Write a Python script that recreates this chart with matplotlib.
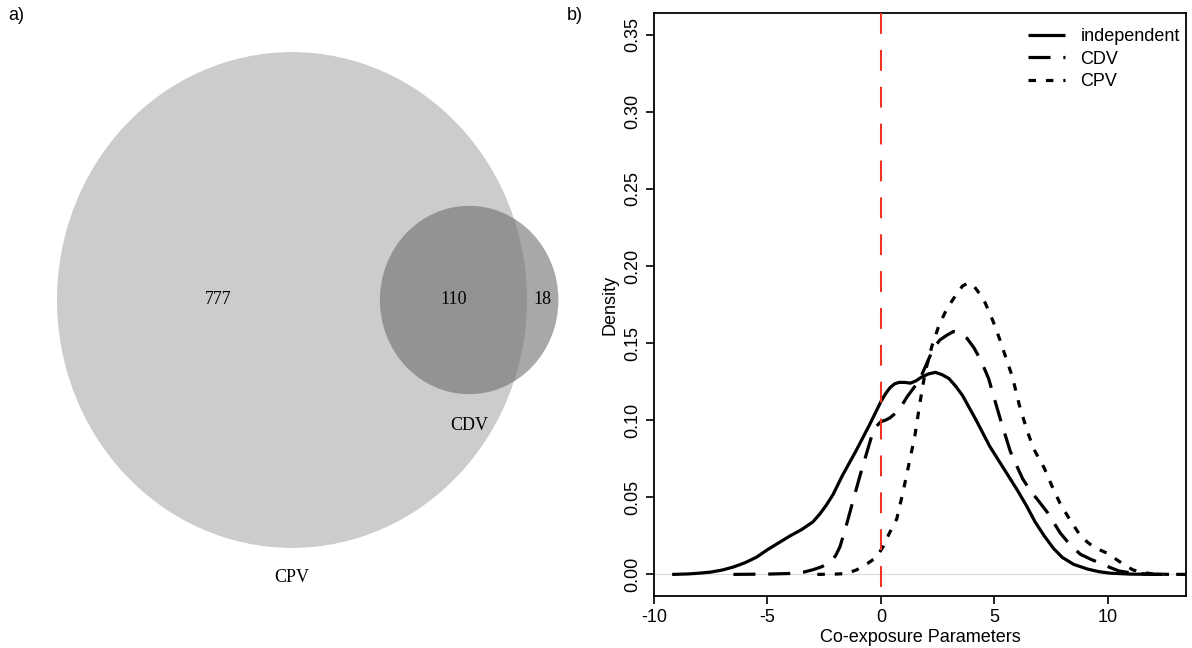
import numpy as np
import matplotlib
matplotlib.use('Agg')
import matplotlib.pyplot as plt
from matplotlib.patches import Circle

plt.rcParams['font.family'] = ['Liberation Sans', 'DejaVu Sans']

# ---- panel a) venn counts
only_cpv = 777
both = 110
only_cdv = 18
set_names = ['CPV', 'CDV']

# ---- panel b) density curves (read off the figure)
ind_x = [-9.2, -8.5, -8.0, -7.5, -7.0, -6.5, -6.0, -5.5, -5.0, -4.5, -4.0, -3.5,
         -3.0, -2.7, -2.4, -2.1, -1.7, -1.1, -0.5, 0.0, 0.2, 0.4, 0.6, 0.8, 1.05,
         1.3, 1.55, 1.8, 2.1, 2.4, 2.7, 3.0, 3.3, 3.6, 4.2, 4.8, 5.4, 6.0, 6.4,
         6.8, 7.2, 7.6, 8.0, 8.5, 9.1, 9.6, 10.1, 11.0, 12.4]
ind_y = [0.0, 0.0003, 0.0008, 0.0015, 0.0028, 0.0048, 0.0075, 0.011, 0.016, 0.0205,
         0.025, 0.029, 0.034, 0.039, 0.045, 0.052, 0.064, 0.080, 0.097, 0.112, 0.117,
         0.121, 0.1235, 0.1245, 0.1245, 0.124, 0.1255, 0.128, 0.130, 0.131, 0.1295,
         0.127, 0.122, 0.116, 0.100, 0.083, 0.069, 0.055, 0.045, 0.034, 0.025, 0.017,
         0.011, 0.0065, 0.0035, 0.0018, 0.0008, 0.0002, 0.0]

cdv_x = [-6.5, -5.0, -4.0, -3.4, -3.0, -2.6, -2.25, -2.0, -1.8, -1.5, -1.24, -0.93,
         -0.62, -0.4, -0.2, 0.0, 0.2, 0.4, 0.6, 0.9, 1.15, 1.45, 1.7, 2.0, 2.3, 2.6,
         2.9, 3.2, 3.5, 3.8, 4.1, 4.4, 4.75, 5.0, 5.3, 5.7, 6.0, 6.25, 6.6, 6.9,
         7.35, 7.9, 8.35, 8.8, 9.3, 9.7, 10.1, 10.5, 11.2, 12.0, 13.5]
cdv_y = [0.0, 0.0002, 0.0006, 0.0015, 0.003, 0.005, 0.008, 0.012, 0.018, 0.033,
         0.047, 0.0635, 0.079, 0.090, 0.096, 0.099, 0.100, 0.1015, 0.104, 0.109,
         0.115, 0.121, 0.126, 0.136, 0.146, 0.152, 0.155, 0.1575, 0.1565, 0.153,
         0.147, 0.139, 0.127, 0.114, 0.099, 0.080, 0.070, 0.062, 0.054, 0.0486,
         0.040, 0.027, 0.019, 0.013, 0.0095, 0.0072, 0.0045, 0.0022, 0.0006, 0.0001, 0.0]

cpv_x = [-2.8, -2.0, -1.5, -1.06, -0.6, -0.2, 0.1, 0.35, 0.7, 0.97, 1.28, 1.5,
         1.72, 1.95, 2.25, 2.55, 2.9, 3.3, 3.6, 3.85, 4.1, 4.35, 4.6, 4.95, 5.25,
         5.5, 5.8, 6.1, 6.45, 6.75, 7.2, 7.55, 7.9, 8.35, 8.8, 9.1, 9.4, 10.0, 10.4,
         10.7, 11.1, 11.5, 12.0, 12.7]
cpv_y = [0.0, 0.0002, 0.0006, 0.003, 0.007, 0.011, 0.018, 0.026, 0.036, 0.053,
         0.0745, 0.090, 0.111, 0.131, 0.148, 0.161, 0.172, 0.181, 0.187, 0.189,
         0.187, 0.182, 0.176, 0.164, 0.152, 0.141, 0.128, 0.110, 0.093, 0.081,
         0.069, 0.057, 0.046, 0.035, 0.025, 0.021, 0.0175, 0.0136, 0.0095, 0.0065,
         0.003, 0.0013, 0.0003, 0.0]

legend_labels = ['independent', 'CDV', 'CPV']
x_ticks = [-10, -5, 0, 5, 10]
y_ticks = [0.00, 0.05, 0.10, 0.15, 0.20, 0.25, 0.30, 0.35]


def lens_area(r1, r2, d):
    if d >= r1 + r2:
        return 0.0
    if d <= abs(r1 - r2):
        return np.pi * min(r1, r2) ** 2
    a1 = r1 ** 2 * np.arccos((d ** 2 + r1 ** 2 - r2 ** 2) / (2 * d * r1))
    a2 = r2 ** 2 * np.arccos((d ** 2 + r2 ** 2 - r1 ** 2) / (2 * d * r2))
    a3 = 0.5 * np.sqrt((-d + r1 + r2) * (d + r1 - r2) * (d - r1 + r2) * (d + r1 + r2))
    return a1 + a2 - a3


fig = plt.figure(figsize=(11.92, 6.48), dpi=100)

# ---------------- a) venn
av = fig.add_axes([0, 0, 0.5, 1])
stretch = 1.055
av.set_xlim(0, 596)
av.set_ylim(648 / stretch, 0)
av.axis('off')

k = 7.89
r_big = k * np.sqrt(only_cpv + both)
r_small = k * np.sqrt(only_cdv + both)
target = np.pi * k ** 2 * both
lo, hi = abs(r_big - r_small), r_big + r_small
for _ in range(60):
    mid = (lo + hi) / 2
    if lens_area(r_big, r_small, mid) > target:
        lo = mid
    else:
        hi = mid
d = (lo + hi) / 2

cx, cy = 292, 300 / stretch
sx = cx + d
av.add_patch(Circle((cx, cy), r_big, facecolor='#cccccc', edgecolor='none'))
av.add_patch(Circle((sx, cy), r_small, facecolor='#6e6e6e', alpha=0.6, edgecolor='none'))

vfont = dict(family='Liberation Serif', fontsize=13, ha='center', va='center')
av.text(((cx - r_big) + (sx - r_small)) / 2, cy, str(only_cpv), **vfont)
av.text(((sx - r_small) + (cx + r_big)) / 2, cy, str(both), **vfont)
av.text(((cx + r_big) + (sx + r_small)) / 2, cy, str(only_cdv), **vfont)
av.text(sx, cy + r_small + 30, set_names[1], **vfont)
av.text(cx, cy + r_big + 28, set_names[0], **vfont)

fig.text(8 / 1192, 1 - 16 / 648, 'a)', fontsize=13, ha='left', va='center')
fig.text(567 / 1192, 1 - 16 / 648, 'b)', fontsize=13, ha='left', va='center')

# ---------------- b) densities
ax = fig.add_axes([654 / 1192, 1 - 596 / 648, (1186 - 654) / 1192, (596 - 13) / 648])
ax.axhline(0, color='#d9d9d9', lw=0.8, zorder=1)
lw = 2.3
ax.plot(ind_x, ind_y, color='black', lw=lw, solid_capstyle='butt', label=legend_labels[0])
ax.plot(cdv_x, cdv_y, color='black', lw=lw, dashes=(6.9, 4.0), dash_capstyle='butt',
        label=legend_labels[1])
ax.plot(cpv_x, cpv_y, color='black', lw=lw, dashes=(2.35, 3.1), dash_capstyle='butt',
        label=legend_labels[2])
ax.plot([0, 0], [1, 0], transform=ax.get_xaxis_transform(), color='#ee3322', lw=1.5,
        dashes=(10, 7.7), zorder=3)

ax.set_xlim(-10, 13.45)
ax.set_ylim(-0.014, 0.364)
ax.set_xticks(x_ticks)
ax.set_yticks(y_ticks)
ax.set_xticklabels([str(t) for t in x_ticks])
ax.set_yticklabels(['%.2f' % t for t in y_ticks])
ax.tick_params(direction='out', length=6, width=1.2, labelsize=13, colors='black')
for lab in ax.get_yticklabels():
    lab.set_rotation(90)
    lab.set_va('center')
for sp in ax.spines.values():
    sp.set_linewidth(1.3)
ax.set_xlabel('Co-exposure Parameters', fontsize=13, labelpad=2)
ax.set_ylabel('Density', fontsize=13, labelpad=4)

ax.legend(loc='upper left', bbox_to_anchor=(0.703, 0.974), frameon=False, fontsize=13,
          handlelength=2.05, handletextpad=0.85, labelspacing=0.3, borderpad=0,
          borderaxespad=0)

fig.savefig('out.png', dpi=100)
